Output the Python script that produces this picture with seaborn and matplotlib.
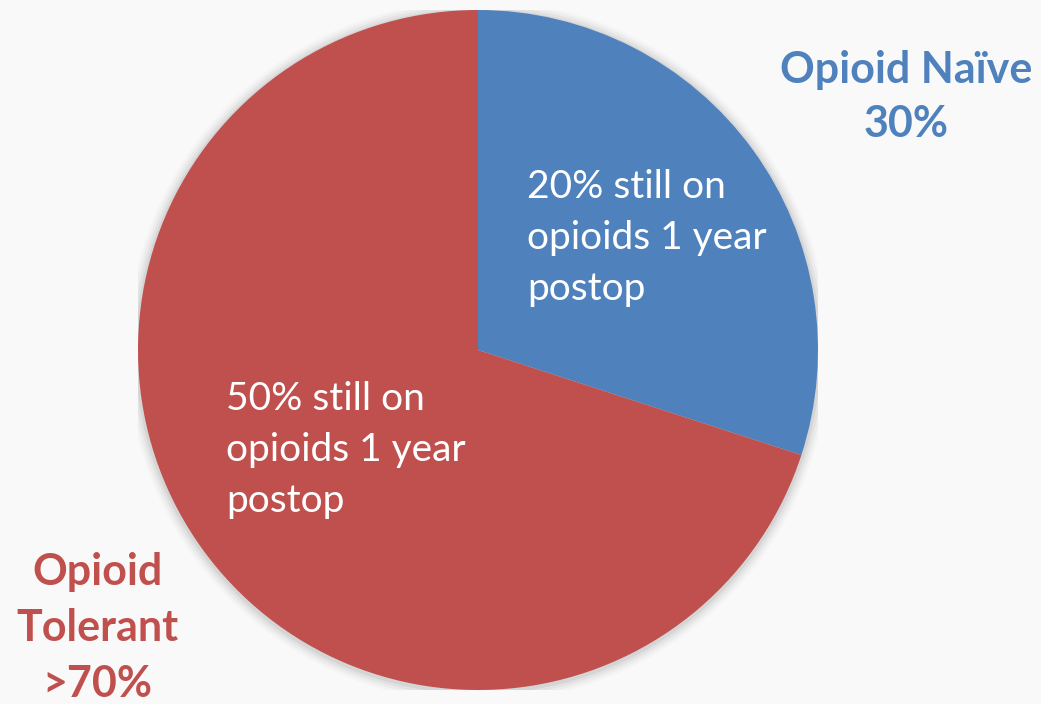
import matplotlib
matplotlib.use("Agg")
import matplotlib.pyplot as plt
import seaborn as sns

categories = ["Opioid Naïve", "Opioid Tolerant"]
shares = [30, 70]
colors = ["#4F81BD", "#C0504D"]
outer_labels = ["Opioid Naïve\n30%", "Opioid\nTolerant\n>70%"]
inner_labels = ["20% still on\nopioids 1 year\npostop", "50% still on\nopioids 1 year\npostop"]

sns.set_theme(style="white")
plt.rcParams['font.family'] = ['Lato', 'DejaVu Sans']

W, H = 1041, 704
fig = plt.figure(figsize=(W / 100, H / 100), dpi=100)
fig.patch.set_facecolor("#F9F9F9")

cx, cy, r = 478, 350, 340
ax = fig.add_axes([(cx - r) / W, (H - cy - r) / H, 2 * r / W, 2 * r / H])
ax.set_facecolor("none")

# soft shadow
for i, a in enumerate([0.05, 0.04, 0.03, 0.02]):
    ax.add_patch(plt.Circle((0, -0.004), 1 + 0.008 * (i + 1), color="#000000", alpha=a, lw=0, zorder=0))

ax.pie(shares, colors=colors, startangle=90, counterclock=False, radius=1,
       wedgeprops=dict(linewidth=0))
ax.set_xlim(-1, 1)
ax.set_ylim(-1, 1)
ax.set_aspect("equal")
ax.axis("off")

def fx(px):
    return px / W

def fy(py):
    return 1 - py / H

fig.text(fx(906), fy(97), outer_labels[0], color=colors[0], fontsize=31, fontweight="bold",
         ha="center", va="center", linespacing=1.42)
fig.text(fx(97), fy(628), outer_labels[1], color=colors[1], fontsize=31, fontweight="bold",
         ha="center", va="center", linespacing=1.48)

fig.text(fx(527), fy(238), inner_labels[0], color="white", fontsize=28,
         ha="left", va="center", linespacing=1.53)
fig.text(fx(226), fy(450), inner_labels[1], color="white", fontsize=28,
         ha="left", va="center", linespacing=1.53)

fig.savefig("out.png", dpi=100, facecolor=fig.get_facecolor())
